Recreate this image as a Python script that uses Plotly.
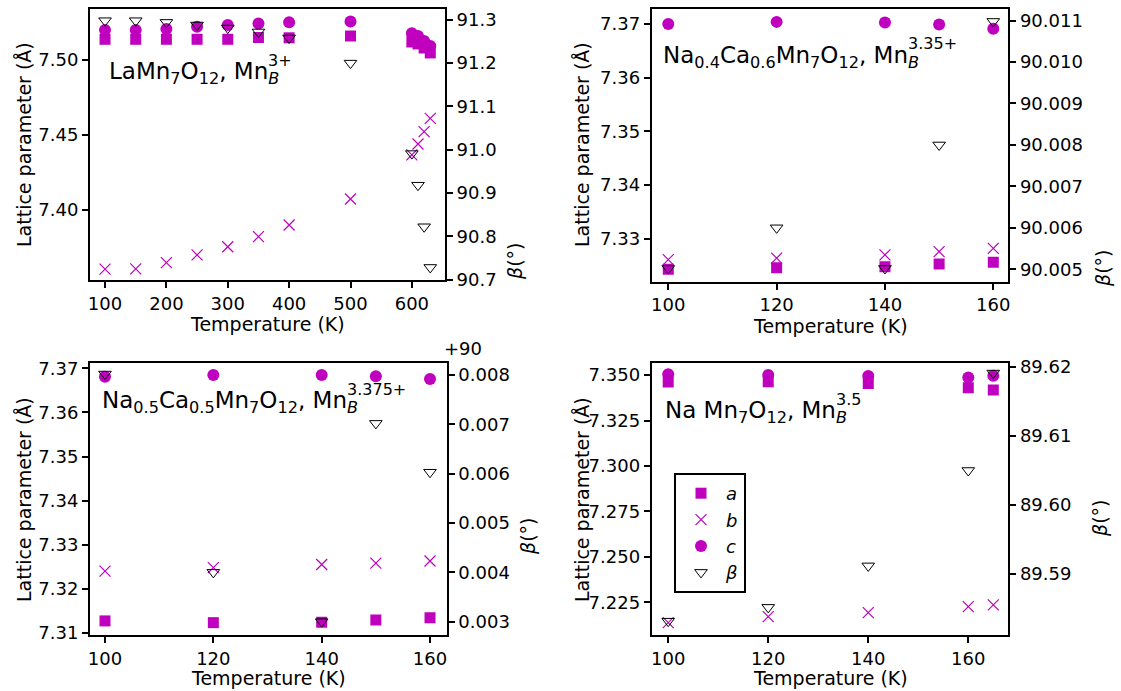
import plotly.graph_objects as go

MAG = '#bf00bf'
FONT = 'DejaVu Sans'

# ---------------- data ----------------
T1 = [100, 150, 200, 250, 300, 350, 400, 500, 600, 610, 620, 630]
a1 = [7.5138, 7.5138, 7.5138, 7.5138, 7.5138, 7.5150, 7.5148, 7.5160, 7.5120, 7.5107, 7.5080, 7.5047]
b1 = [7.3605, 7.3607, 7.3649, 7.3700, 7.3755, 7.3822, 7.3900, 7.4073, 7.4367, 7.4440, 7.4522, 7.4611]
c1 = [7.5200, 7.5200, 7.5207, 7.5222, 7.5233, 7.5244, 7.5251, 7.5256, 7.5178, 7.5160, 7.5127, 7.5093]
beta1 = [91.298, 91.298, 91.294, 91.288, 91.281, 91.272, 91.258, 91.200, 90.991, 90.918, 90.822, 90.728]

T2 = [100, 120, 140, 150, 160]
a2 = [7.3243, 7.3246, 7.3248, 7.3253, 7.3256]
b2 = [7.3261, 7.3264, 7.3270, 7.3276, 7.3282]
c2 = [7.3700, 7.3704, 7.3703, 7.3699, 7.3691]
beta2 = [90.00502, 90.00600, 90.00502, 90.00800, 90.01098]

T3 = [100, 120, 140, 150, 160]
a3 = [7.3127, 7.3123, 7.3124, 7.3129, 7.3134]
b3 = [7.3240, 7.3248, 7.3255, 7.3258, 7.3263]
c3 = [7.3681, 7.3685, 7.3685, 7.3682, 7.3676]
beta3 = [90.00802, 90.00400, 90.00300, 90.00702, 90.00603]
beta3_offset = 90

T4 = [100, 120, 140, 160, 165]
a4 = [7.3462, 7.3463, 7.3454, 7.3430, 7.3418]
b4 = [7.2138, 7.2171, 7.2193, 7.2226, 7.2236]
c4 = [7.3505, 7.3500, 7.3495, 7.3486, 7.3496]
beta4 = [89.5832, 89.5852, 89.5912, 89.6050, 89.6191]

# panel labels: main part (with subscript B) and the charge written above the B
titles = [
    'LaMn<sub>7</sub>O<sub>12</sub>, Mn<sub><i>B</i></sub>',
    'Na<sub>0.4</sub>Ca<sub>0.6</sub>Mn<sub>7</sub>O<sub>12</sub>, Mn<sub><i>B</i></sub>',
    'Na<sub>0.5</sub>Ca<sub>0.5</sub>Mn<sub>7</sub>O<sub>12</sub>, Mn<sub><i>B</i></sub>',
    'Na Mn<sub>7</sub>O<sub>12</sub>, Mn<sub><i>B</i></sub>',
]
charges = ['3+', '3.35+', '3.375+', '3.5']

W, H = 1121, 691

# panel geometry in pixels: (left, right, top, bottom)
geo = [(90, 445, 9, 280), (651.7, 1008.3, 9, 281.7), (90, 446.7, 362.7, 635), (651.7, 1008.3, 362.7, 635)]
xr = [[75.5, 654], [96.94, 162.77], [97.23, 163.08], [96.7, 168]]
xt = [[100, 200, 300, 400, 500, 600], [100, 120, 140, 160], [100, 120, 140, 160], [100, 120, 140, 160]]
yl_r = [[7.3533, 7.534], [7.3220, 7.3728], [7.3095, 7.3713], [7.207, 7.3568]]
yl_d = [0.05, 0.01, 0.01, 0.025]
yl_f = ['.2f', '.2f', '.2f', '.3f']
yr_r = [[90.699, 91.325], [90.0047, 90.01128], [0.00273, 0.00825], [89.5812, 89.6206]]
yr_d = [0.1, 0.001, 0.001, 0.01]
yr_f = ['.1f', '.3f', '.3f', '.2f']

data = [
    (T1, a1, b1, c1, beta1),
    (T2, a2, b2, c2, beta2),
    (T3, a3, b3, c3, [v - beta3_offset for v in beta3]),
    (T4, a4, b4, c4, beta4),
]

fig = go.Figure()
layout = {}
annotations = []

tickfont = dict(family=FONT, size=18, color='black')
axcommon = dict(showline=True, linecolor='black', linewidth=2, ticks='outside',
                ticklen=6, tickwidth=1.5, tickcolor='black', showgrid=False,
                zeroline=False, tickfont=tickfont, automargin=False)

for i in range(4):
    l, r, t, b = geo[i]
    xn = i + 1
    yln = 2 * i + 1
    yrn = 2 * i + 2
    xname = 'xaxis' if xn == 1 else f'xaxis{xn}'
    ylname = 'yaxis' if yln == 1 else f'yaxis{yln}'
    yrname = f'yaxis{yrn}'
    xref = 'x' if xn == 1 else f'x{xn}'
    ylref = 'y' if yln == 1 else f'y{yln}'
    yrref = f'y{yrn}'
    layout[xname] = dict(domain=[l / W, r / W], range=xr[i], tickvals=xt[i],
                         anchor=ylref, mirror=True, **axcommon)
    layout[ylname] = dict(domain=[1 - b / H, 1 - t / H], range=yl_r[i], dtick=yl_d[i],
                          tick0=0, tickformat=yl_f[i], anchor=xref, mirror=True, **axcommon)
    layout[yrname] = dict(domain=[1 - b / H, 1 - t / H], range=yr_r[i], dtick=yr_d[i],
                          tick0=0, tickformat=yr_f[i], anchor=xref, overlaying=ylref,
                          side='right', **axcommon)

    T, av, bv, cv, be = data[i]
    show = (i == 3)
    fig.add_trace(go.Scatter(x=T, y=av, mode='markers', name='<i>a</i>', showlegend=show,
                             marker=dict(symbol='square', size=11, color=MAG),
                             xaxis=xref, yaxis=ylref))
    fig.add_trace(go.Scatter(x=T, y=bv, mode='markers', name='<i>b</i>', showlegend=show,
                             marker=dict(symbol='x-thin', size=11, color=MAG,
                                         line=dict(color=MAG, width=1.2)),
                             xaxis=xref, yaxis=ylref))
    fig.add_trace(go.Scatter(x=T, y=cv, mode='markers', name='<i>c</i>', showlegend=show,
                             marker=dict(symbol='circle', size=12, color=MAG),
                             xaxis=xref, yaxis=ylref))
    fig.add_trace(go.Scatter(x=T, y=be, mode='markers', name='<i>β</i>', showlegend=show,
                             marker=dict(symbol='triangle-down-open', size=11, color='black',
                                         line=dict(color='black', width=1)),
                             xaxis=xref, yaxis=yrref))

# panel labels (left x, vertical centre of the main letters, x where the subscript B starts)
label_pos = [(107, 73, 266), (661, 57, 906), (100, 402, 345), (663, 412, 834)]
for i, (px, py, bx) in enumerate(label_pos):
    annotations.append(dict(text=titles[i], xref='paper', yref='paper', x=px / W, y=1 - py / H,
                            xanchor='left', yanchor='middle', showarrow=False,
                            font=dict(family=FONT, size=23, color='black')))
    annotations.append(dict(text=charges[i], xref='paper', yref='paper', x=bx / W, y=1 - (py - 13) / H,
                            xanchor='left', yanchor='middle', showarrow=False,
                            font=dict(family=FONT, size=16, color='black')))

# axis titles
xt_pos = [(267.5, 324), (830, 326), (268, 678), (830, 678)]
for px, py in xt_pos:
    annotations.append(dict(text='Temperature (K)', xref='paper', yref='paper', x=px / W, y=1 - py / H,
                            xanchor='center', yanchor='middle', showarrow=False,
                            font=dict(family=FONT, size=19, color='black')))
yl_pos = [(24, 145), (582, 145), (24, 500), (582, 500)]
for px, py in yl_pos:
    annotations.append(dict(text='Lattice parameter (Å)', xref='paper', yref='paper', x=px / W, y=1 - py / H,
                            xanchor='center', yanchor='middle', showarrow=False, textangle=-90,
                            font=dict(family=FONT, size=19, color='black')))
yr_pos = [(515, 262), (1103, 269), (528, 537), (1100, 519)]
for px, py in yr_pos:
    annotations.append(dict(text='<i>β</i>(°)', xref='paper', yref='paper', x=px / W, y=1 - py / H,
                            xanchor='center', yanchor='middle', showarrow=False, textangle=-90,
                            font=dict(family=FONT, size=19, color='black')))
annotations.append(dict(text='+90', xref='paper', yref='paper', x=463 / W, y=1 - 348 / H,
                        xanchor='center', yanchor='middle', showarrow=False,
                        font=dict(family=FONT, size=18, color='black')))

fig.update_layout(**layout)
fig.update_layout(
    template='none',
    width=W, height=H, margin=dict(l=0, r=0, t=0, b=0, autoexpand=False),
    paper_bgcolor='white', plot_bgcolor='white',
    annotations=annotations,
    legend=dict(x=674 / W, y=1 - 473 / H, xanchor='left', yanchor='top',
                bordercolor='black', borderwidth=2, bgcolor='white',
                font=dict(family=FONT, size=18, color='black'),
                itemwidth=40, tracegroupgap=0),
    font=dict(family=FONT, color='black'),
)

fig.write_html('out.html', config={'displayModeBar': False},
               post_script="document.body.style.margin='0';document.body.style.padding='0';"
                           "document.body.style.overflow='hidden';")
